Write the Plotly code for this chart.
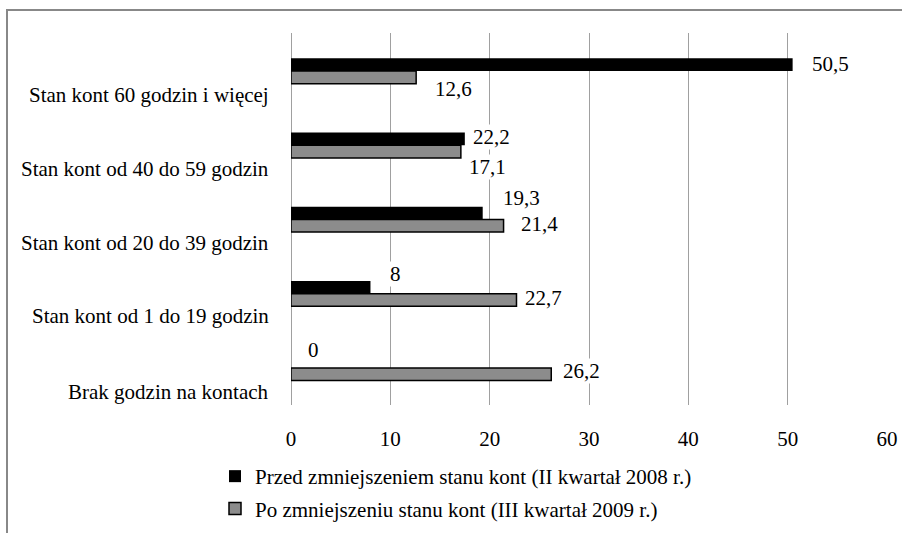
import plotly.graph_objects as go

# ---- data (categories listed top to bottom) ----
categories = [
    "Stan kont 60 godzin i więcej",
    "Stan kont od 40 do 59 godzin",
    "Stan kont od 20 do 39 godzin",
    "Stan kont od 1 do 19 godzin",
    "Brak godzin na kontach",
]
series_names = [
    "Przed zmniejszeniem stanu kont (II kwartał 2008 r.)",
    "Po zmniejszeniu stanu kont (III kwartał 2009 r.)",
]
before_values = [50.5, 17.5, 19.3, 8, 0]          # bar lengths as drawn
before_labels = ["50,5", "22,2", "19,3", "8", "0"]
after_values = [12.6, 17.1, 21.4, 22.7, 26.2]
after_labels = ["12,6", "17,1", "21,4", "22,7", "26,2"]
x_ticks = [0, 10, 20, 30, 40, 50, 60]

# ---- layout helpers (pixel offsets for labels) ----
before_offsets = [(18, 7), (7, 8), (19, 21), (19, 20), (16, 18)]
after_offsets = [(18, -18), (7, -22), (16, -5), (8, -4), (11, -3)]
cat_label_dy = [-24, -24, -24, -22, -24]

FONT = "Liberation Serif, Times New Roman, DejaVu Serif, serif"
FS = 21
W, H = 902, 533
ML, MR, MT, MB = 291, 15, 33, 128

fig = go.Figure()
fig.add_trace(go.Bar(
    y=categories, x=before_values, orientation="h", name=series_names[0],
    marker=dict(color="#000000", line=dict(color="#000000", width=0)),
    legendgroup="a",
))
fig.add_trace(go.Bar(
    y=categories, x=after_values, orientation="h", name=series_names[1],
    marker=dict(color="#8c8c8c", line=dict(color="#000000", width=1.5)),
    legendgroup="b",
))

annotations = []
for c, v, t, (dx, dy) in zip(categories, before_values, before_labels, before_offsets):
    annotations.append(dict(x=v, y=c, xref="x", yref="y", text=t, showarrow=False,
                            xanchor="left", yanchor="middle", xshift=dx, yshift=dy,
                            bgcolor="white", borderpad=0,
                            font=dict(family=FONT, size=FS, color="black")))
for c, v, t, (dx, dy) in zip(categories, after_values, after_labels, after_offsets):
    annotations.append(dict(x=v, y=c, xref="x", yref="y", text=t, showarrow=False,
                            xanchor="left", yanchor="middle", xshift=dx, yshift=dy,
                            bgcolor="white", borderpad=0,
                            font=dict(family=FONT, size=FS, color="black")))
for c, dy in zip(categories, cat_label_dy):
    annotations.append(dict(x=0, y=c, xref="paper", yref="y", text=c, showarrow=False,
                            xanchor="right", yanchor="middle", xshift=-20, yshift=dy,
                            font=dict(family=FONT, size=FS, color="black")))

pw = W - ML - MR
ph = H - MT - MB
def px_x(p):
    return (p - ML) / pw
def px_y(p):
    return (H - MB - p) / ph

shapes = [
    dict(type="line", xref="paper", yref="paper", x0=px_x(6), x1=px_x(902),
         y0=px_y(10), y1=px_y(10), line=dict(color="#888888", width=2)),
    dict(type="line", xref="paper", yref="paper", x0=px_x(7), x1=px_x(7),
         y0=px_y(10), y1=px_y(533), line=dict(color="#888888", width=2)),
]

fig.update_layout(
    template="none",
    width=W, height=H,
    margin=dict(l=ML, r=MR, t=MT, b=MB, autoexpand=False),
    paper_bgcolor="white", plot_bgcolor="white",
    barmode="group", bargap=0.659, bargroupgap=0,
    font=dict(family=FONT, size=FS, color="black"),
    showlegend=True,
    legend=dict(x=px_x(215), y=px_y(456), xanchor="left", yanchor="top",
                traceorder="grouped", tracegroupgap=2,
                font=dict(family=FONT, size=FS, color="black"),
                bgcolor="rgba(0,0,0,0)", borderwidth=0),
    annotations=annotations,
    shapes=shapes,
)
fig.update_xaxes(range=[0, 60], tickvals=x_ticks, ticktext=[str(v) for v in x_ticks],
                 automargin=False,
                 showgrid=True, gridcolor="#a0a0a0", gridwidth=1,
                 zeroline=True, zerolinecolor="#a0a0a0", zerolinewidth=1,
                 showline=False, ticks="", ticklabelstandoff=19,
                 tickfont=dict(family=FONT, size=FS, color="black"))
fig.update_yaxes(categoryorder="array", categoryarray=categories, autorange="reversed",
                 automargin=False,
                 showticklabels=False, showgrid=False, zeroline=False, showline=False,
                 ticks="")

fig.write_html("out.html", config={"displayModeBar": False},
               post_script="document.body.style.margin='0px';")
